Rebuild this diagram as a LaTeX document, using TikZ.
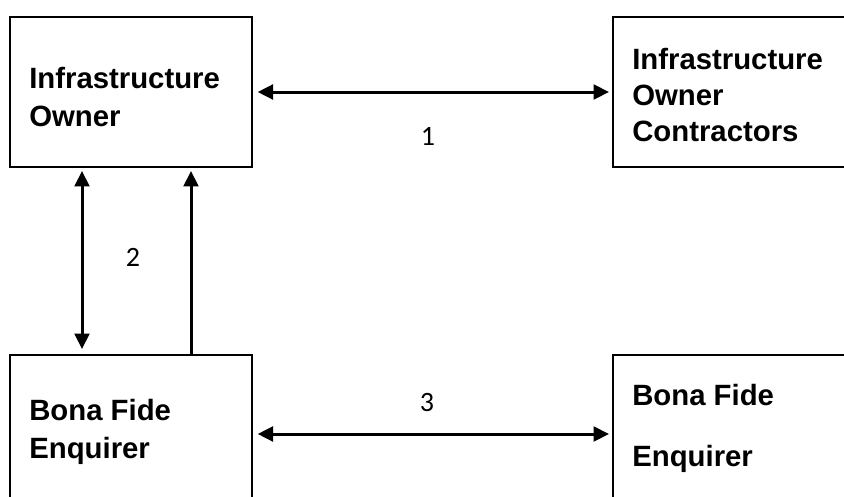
\documentclass[tikz,border=0pt]{standalone}
\usepackage{fontspec}
\setmainfont{Liberation Sans}
\newfontfamily\numfont{Carlito}
\usetikzlibrary{arrows.meta,positioning}

\begin{document}
\begin{tikzpicture}[x=0.75pt,y=-0.75pt,
  >={Triangle[length=11.5pt,width=11pt]},
  party/.style={rectangle,draw=black,line width=1.5pt,minimum width=181.5pt,minimum height=112.5pt,inner sep=0pt},
  partytext/.style={inner sep=0pt,align=left,font=\fontsize{22}{28.5}\selectfont\bfseries},
  link/.style={line width=2.25pt},
  num/.style={font=\numfont\fontsize{21}{24}\selectfont}]
  \useasboundingbox (0,0) rectangle (844,497);
  \clip (0,0) rectangle (844,497);
  \node[party] (io) at (131,92){};
  \node[party,minimum width=200.25pt] (ioc) at (746.5,92){};
  \node[party,minimum height=118.5pt] (bf) at (131,434){};
  \node[party,minimum width=200.25pt,minimum height=118.5pt] (bfc) at (746.5,434){};
  \node[partytext,below right=38.5pt and 15pt of io.north west] (iot) {Infrastructure\\Owner};
  \node[partytext,below right=24.25pt and 15pt of ioc.north west] (ioct) {Infrastructure\\[-1.5pt]Owner\\[-1.5pt]Contractors};
  \node[partytext,below right=34pt and 15pt of bf.north west] (bft) {Bona Fide\\Enquirer};
  \node[partytext,below right=22.75pt and 15pt of bfc.north west] (bfct) {Bona Fide\\[17.25pt]Enquirer};
     \draw[link,<->,shorten <=3.5pt,shorten >=2.25pt] (io.east) -- (ioc.west);
     \draw[link,<->,shorten <=2.25pt,shorten >=3.75pt] ([xshift=54.75pt]io.south west) -- ([xshift=54.75pt]bf.north west);
     \draw[link,->,shorten >=2.25pt] ([xshift=136.5pt]bf.north west) -- ([xshift=136.5pt]io.south west);
     \draw[link,<->,shorten <=3.5pt,shorten >=2.25pt] (bf.east) -- (bfc.west);
  \node[num] (n1) at (428,136){1};
  \node[num] (n2) at (133,257){2};
  \node[num] (n3) at (427,403){3};
\end{tikzpicture}
\end{document}
